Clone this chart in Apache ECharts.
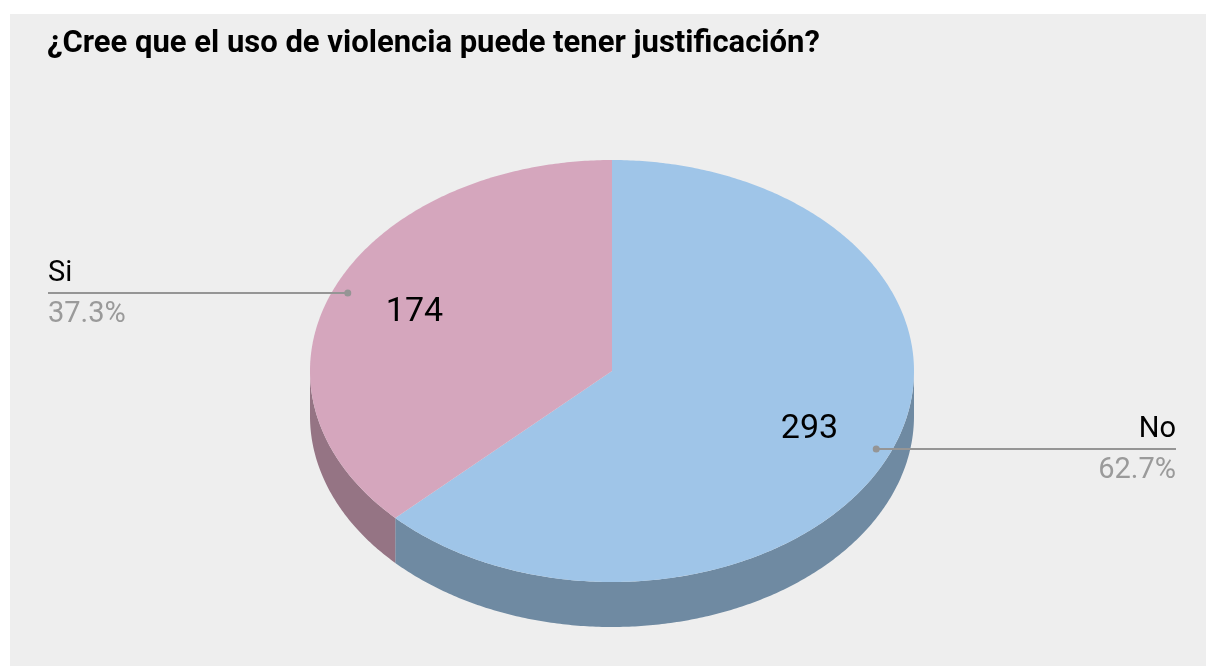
<!DOCTYPE html>
<html>
<head>
<meta charset="utf-8">
<title>¿Cree que el uso de violencia puede tener justificación?</title>
<script src="https://cdn.jsdelivr.net/npm/echarts@6.0.0/dist/echarts.min.js"></script>
<style>
html, body { margin: 0; padding: 0; background: #ffffff; }
#chart { position: absolute; left: 10px; top: 14px; width: 1196px; height: 652px; }
</style>
</head>
<body>
<div id="chart"></div>
<script>
// datos del gráfico
const categories = ['No', 'Si'];
const counts = [293, 174];

const sliceColors = ['#9fc5e8', '#d5a6bd'];
const wallColors = ['#6f8aa2', '#957484'];
const FONT = 'Roboto, sans-serif';

const total = counts.reduce((a, b) => a + b, 0);
const starts = [];
counts.reduce((acc, v, i) => { starts[i] = acc; return acc + v; }, 0);

// pastel "3D": elipse + pared frontal
const pie = { cx: 602, cy: 357, rx: 302, ry: 211, depth: 45 };
const labelLeft = 38, labelRight = 1166;

function pt(t, k, dy) {
    return [pie.cx + pie.rx * k * Math.sin(t), pie.cy - pie.ry * k * Math.cos(t) + (dy || 0)];
}
function arc(t1, t2, dy) {
    const n = Math.max(2, Math.ceil(Math.abs(t2 - t1) / 0.01));
    const out = [];
    for (let i = 0; i <= n; i++) out.push(pt(t1 + (t2 - t1) * i / n, 1, dy));
    return out;
}

function renderItem(params, api) {
    const i = params.dataIndex;
    const v = api.value(0);
    const t1 = starts[i] / total * 2 * Math.PI;
    const t2 = (starts[i] + v) / total * 2 * Math.PI;
    const mid = (t1 + t2) / 2;
    const children = [];

    // pared visible (mitad delantera)
    const a = Math.max(t1, Math.PI / 2), b = Math.min(t2, 3 * Math.PI / 2);
    if (b > a) {
        children.push({
            type: 'polygon',
            shape: { points: arc(a, b, 0).concat(arc(b, a, pie.depth)) },
            style: { fill: wallColors[i] }
        });
    }
    // cara superior
    children.push({
        type: 'polygon',
        shape: { points: [[pie.cx, pie.cy]].concat(arc(t1, t2, 0)) },
        style: { fill: sliceColors[i] }
    });

    // valor dentro del sector
    const vp = pt(mid, 0.71);
    children.push({
        type: 'text',
        style: {
            x: vp[0], y: vp[1], text: String(v),
            fill: '#000', font: '34px ' + FONT,
            align: 'center', verticalAlign: 'middle'
        }
    });

    // etiqueta exterior con línea
    const dot = pt(mid, 0.95);
    const left = Math.sin(mid) < 0;
    const endX = left ? labelLeft : labelRight;
    const pct = (v / total * 100).toFixed(1) + '%';
    children.push({
        type: 'line',
        shape: { x1: dot[0], y1: dot[1], x2: endX, y2: dot[1] },
        style: { stroke: '#959595', lineWidth: 2 }
    });
    children.push({
        type: 'circle',
        shape: { cx: dot[0], cy: dot[1], r: 3.5 },
        style: { fill: '#959595' }
    });
    children.push({
        type: 'text',
        style: {
            x: endX, y: dot[1] - 19, text: categories[i],
            fill: '#000', font: '29px ' + FONT,
            align: left ? 'left' : 'right', verticalAlign: 'middle'
        }
    });
    children.push({
        type: 'text',
        style: {
            x: endX, y: dot[1] + 22, text: pct,
            fill: '#9a9a9a', font: '29px ' + FONT,
            align: left ? 'left' : 'right', verticalAlign: 'middle'
        }
    });
    return { type: 'group', children: children };
}

const chart = echarts.init(document.getElementById('chart'));
chart.setOption({
    animation: false,
    backgroundColor: '#eeeeee',
    title: {
        text: '¿Cree que el uso de violencia puede tener justificación?',
        left: 37,
        top: 15,
        padding: 0,
        textStyle: {
            fontFamily: FONT,
            fontWeight: 'bold',
            fontSize: 31,
            color: '#000'
        }
    },
    series: [{
        type: 'custom',
        coordinateSystem: 'none',
        renderItem: renderItem,
        data: counts.map((v, i) => ({ name: categories[i], value: [v] }))
    }]
});
</script>
</body>
</html>
